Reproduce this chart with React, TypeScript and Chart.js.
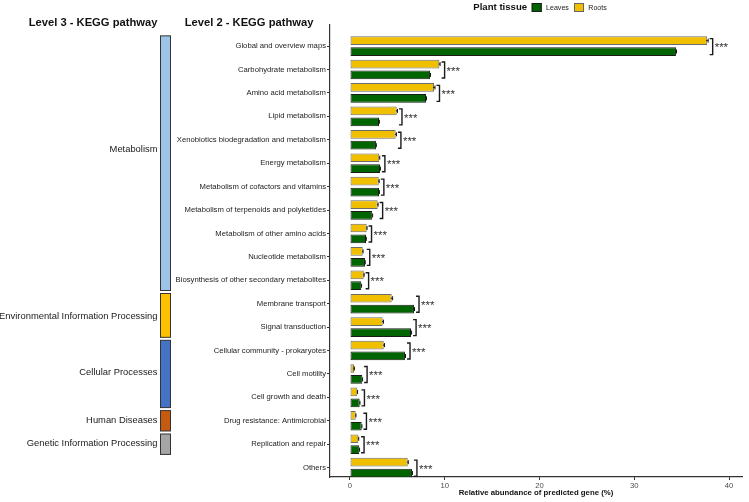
import React, { useEffect, useRef } from 'react';
import { Chart, registerables } from 'chart.js';

Chart.register(...registerables);

// Level 2 KEGG pathways, top to bottom
const categories = [
  'Global and overview maps',
  'Carbohydrate metabolism',
  'Amino acid metabolism',
  'Lipid metabolism',
  'Xenobiotics biodegradation and metabolism',
  'Energy metabolism',
  'Metabolism of cofactors and vitamins',
  'Metabolism of terpenoids and polyketides',
  'Metabolism of other amino acids',
  'Nucleotide metabolism',
  'Biosynthesis of other secondary metabolites',
  'Membrane transport',
  'Signal transduction',
  'Cellular community - prokaryotes',
  'Cell motility',
  'Cell growth and death',
  'Drug resistance: Antimicrobial',
  'Replication and repair',
  'Others',
];

// Relative abundance (%) per tissue
const roots = [37.7, 9.43, 8.87, 4.93, 4.82, 3.09, 3.03, 2.92, 1.76, 1.34, 1.45, 4.4, 3.45, 3.56, 0.42, 0.77, 0.6, 0.88, 6.09];
const leaves = [34.4, 8.44, 8.02, 3.06, 2.74, 3.17, 3.06, 2.35, 1.69, 1.58, 1.19, 6.75, 6.44, 5.8, 1.3, 1.02, 1.23, 0.98, 6.54];
const rootsErr = [0.1, 0.08, 0.1, 0.08, 0.08, 0.05, 0.05, 0.05, 0.04, 0.04, 0.04, 0.1, 0.08, 0.08, 0.04, 0.03, 0.03, 0.04, 0.06];
const leavesErr = [0.06, 0.05, 0.05, 0.04, 0.04, 0.04, 0.04, 0.04, 0.03, 0.03, 0.03, 0.06, 0.06, 0.06, 0.03, 0.03, 0.03, 0.03, 0.05];
const significance = categories.map(() => '***');

const xTicks = [0, 10, 20, 30, 40];

// Level 3 KEGG groups (category index ranges)
const groupNames = [
  'Metabolism',
  'Environmental Information Processing',
  'Cellular Processes',
  'Human Diseases',
  'Genetic Information Processing',
];
const groupFirst = [0, 11, 13, 16, 17];
const groupLast = [10, 12, 15, 16, 17];
const groupLabelAt = [4.4, 11.55, 13.95, 16, 16.98];
const groupColors = ['#9DC3E6', '#FFC000', '#4472C4', '#C55A11', '#A5A5A5'];

const FONT = '"Liberation Sans", Arial, sans-serif';
const ROOT_COLOR = '#F0C000';
const LEAF_COLOR = '#006400';

const decorations = {
  id: 'keggDecorations',
  afterDatasetsDraw(chart: any) {
    const { ctx, scales } = chart;
    const x = scales.x;
    const y = scales.y;
    const mRoots = chart.getDatasetMeta(0);
    const mLeaves = chart.getDatasetMeta(1);
    ctx.save();

    // error bars (upper whisker visible past the bar end)
    ctx.strokeStyle = '#111';
    ctx.lineWidth = 1;
    const drawErr = (v: number, e: number, cy: number) => {
      const a = x.getPixelForValue(v - e);
      const b = x.getPixelForValue(v + e);
      ctx.beginPath();
      ctx.moveTo(a, cy);
      ctx.lineTo(b, cy);
      ctx.moveTo(b, cy - 2);
      ctx.lineTo(b, cy + 2);
      ctx.stroke();
    };
    categories.forEach((_, i) => {
      drawErr(roots[i], rootsErr[i], mRoots.data[i].y);
      drawErr(leaves[i], leavesErr[i], mLeaves.data[i].y);
    });

    // significance brackets
    categories.forEach((_, i) => {
      const hi = Math.max(roots[i] + rootsErr[i], leaves[i] + leavesErr[i]);
      const bx = x.getPixelForValue(hi) + 4.5;
      const cy = y.getPixelForValue(i);
      const top = cy - 7.5;
      const bot = cy + 8.5;
      ctx.strokeStyle = '#1a1a1a';
      ctx.lineWidth = 1.4;
      ctx.beginPath();
      ctx.moveTo(bx - 3, top);
      ctx.lineTo(bx, top);
      ctx.lineTo(bx, bot);
      ctx.lineTo(bx - 3, bot);
      ctx.stroke();
      ctx.fillStyle = '#333';
      ctx.font = `11.5px ${FONT}`;
      ctx.textAlign = 'left';
      ctx.textBaseline = 'alphabetic';
      ctx.fillText(significance[i], bx + 2, cy + 5.2);
    });

    // Level 3 group bars and labels
    groupNames.forEach((name, g) => {
      const t = y.getPixelForValue(groupFirst[g] - 0.5) + 1.5;
      const b = y.getPixelForValue(groupLast[g] + 0.5) - 1.5;
      ctx.fillStyle = groupColors[g];
      ctx.fillRect(160.5, t, 10, b - t);
      ctx.strokeStyle = '#333';
      ctx.lineWidth = 1;
      ctx.strokeRect(160.5, t, 10, b - t);
      ctx.fillStyle = '#1a1a1a';
      ctx.font = `9.4px ${FONT}`;
      ctx.textAlign = 'right';
      ctx.textBaseline = 'middle';
      ctx.fillText(name, 157.5, y.getPixelForValue(groupLabelAt[g]));
    });

    // panel headers
    ctx.fillStyle = '#111';
    ctx.font = `bold 11.2px ${FONT}`;
    ctx.textAlign = 'left';
    ctx.textBaseline = 'middle';
    ctx.fillText('Level 3 - KEGG pathway', 28.7, 23.3);
    ctx.fillText('Level 2 - KEGG pathway', 184.7, 23.3);

    // legend
    ctx.font = `bold 9.6px ${FONT}`;
    ctx.fillText('Plant tissue', 473.3, 7.6);
    const legendItems = [
      { label: 'Leaves', color: LEAF_COLOR, border: '#1a1a1a', x: 531.7 },
      { label: 'Roots', color: ROOT_COLOR, border: '#666', x: 574 },
    ];
    legendItems.forEach((it) => {
      ctx.fillStyle = it.color;
      ctx.fillRect(it.x, 3, 10, 9);
      ctx.strokeStyle = it.border;
      ctx.lineWidth = 1;
      ctx.strokeRect(it.x + 0.5, 3.5, 9, 8);
      ctx.fillStyle = '#222';
      ctx.font = `7.1px ${FONT}`;
      ctx.fillText(it.label, it.x + 14.3, 7.6);
    });

    ctx.restore();
  },
};

export default function App() {
  const canvasRef = useRef<HTMLCanvasElement | null>(null);

  useEffect(() => {
    const canvas = canvasRef.current;
    if (!canvas) return;
    const chart = new Chart(canvas, {
      type: 'bar',
      data: {
        datasets: [
          {
            label: 'Roots',
            data: roots.map((v, i) => ({ x: v, y: i })),
            backgroundColor: ROOT_COLOR,
            borderColor: '#6b6b6b',
            borderWidth: 1,
            borderSkipped: false,
          },
          {
            label: 'Leaves',
            data: leaves.map((v, i) => ({ x: v, y: i })),
            backgroundColor: LEAF_COLOR,
            borderColor: '#1a1a1a',
            borderWidth: 1,
            borderSkipped: false,
          },
        ],
      },
      options: {
        animation: false,
        responsive: false,
        indexAxis: 'y',
        layout: { padding: { top: 25, right: 7, bottom: 4, left: 0 } },
        datasets: { bar: { categoryPercentage: 0.93, barPercentage: 0.8 } },
        plugins: { legend: { display: false }, tooltip: { enabled: false } },
        scales: {
          x: {
            type: 'linear',
            min: -2.11,
            max: 41.37,
            afterBuildTicks: (s: any) => {
              s.ticks = xTicks.map((v) => ({ value: v }));
            },
            afterFit: (s: any) => {
              s.height = 21;
            },
            grid: { drawOnChartArea: false, drawTicks: true, tickLength: 3, color: '#333' },
            border: { display: true, color: '#333', width: 1.2 },
            ticks: { font: { family: FONT, size: 7.7 }, color: '#4d4d4d', padding: 1 },
            title: {
              display: true,
              text: 'Relative abundance of predicted gene (%)',
              font: { family: FONT, size: 7.8, weight: 'bold' },
              color: '#111',
              padding: { top: 0, bottom: 0 },
            },
          },
          y: {
            type: 'linear',
            reverse: true,
            offset: false,
            min: -0.9,
            max: 18.4,
            afterBuildTicks: (s: any) => {
              s.ticks = categories.map((_, i) => ({ value: i }));
            },
            afterFit: (s: any) => {
              s.width = 330;
            },
            grid: { offset: false, drawOnChartArea: false, drawTicks: true, tickLength: 3, color: '#333' },
            border: { display: true, color: '#333', width: 1.2 },
            ticks: {
              autoSkip: false,
              padding: 1,
              color: '#222',
              font: { family: FONT, size: 7.7 },
              callback: (v: any) => categories[v as number] ?? '',
            },
          },
        },
      },
      plugins: [decorations],
    } as any);
    return () => chart.destroy();
  }, []);

  return (
    <div style={{ position: 'fixed', left: 0, top: 0, width: 749, height: 502, background: '#fff' }}>
      <canvas ref={canvasRef} width={749} height={502} style={{ display: 'block' }} />
    </div>
  );
}
